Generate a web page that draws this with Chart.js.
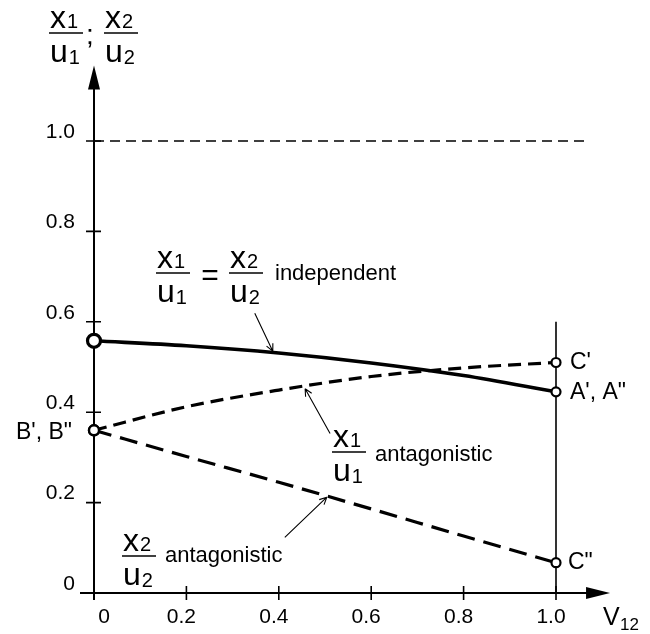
<!DOCTYPE html>
<html>
<head>
<meta charset="utf-8">
<script src="https://cdn.jsdelivr.net/npm/chart.js@4/dist/chart.umd.min.js"></script>
<style>
  html, body { margin: 0; padding: 0; background: #fff; }
  #wrap { width: 650px; height: 634px; }
</style>
</head>
<body>
<div id="wrap"><canvas id="chart" width="650" height="634"></canvas></div>
<script>
// coupling coefficient V12 and the relative outputs
const v12 = [0, 0.2, 0.4, 0.6, 0.8, 1.0]
const independent = [0.558, 0.547, 0.531, 0.509, 0.481, 0.445]
const antagonistic1 = [0.36, 0.412, 0.449, 0.479, 0.498, 0.51]
const antagonistic2 = [0.36, 0.302, 0.245, 0.186, 0.126, 0.067]

const xTicks = [0, 0.2, 0.4, 0.6, 0.8, 1.0]
const xTickLabels = ['0', '0.2', '0.4', '0.6', '0.8', '1.0']
const yTicks = [0, 0.2, 0.4, 0.6, 0.8, 1.0]
const yTickLabels = ['0', '0.2', '0.4', '0.6', '0.8', '1.0']

// dashed limit at 1.0 and the vertical at V12 = 1
const limitX = [0, 1.065]
const limitY = [1, 1]
const edgeX = [1, 1]
const edgeY = [0, 0.6]

const FONT = '"Liberation Sans", Arial, Helvetica, sans-serif'

const pts = (xs, ys) => xs.map((x, i) => ({ x, y: ys[i] }))
const ends = (first, last) => v12.map((_, i) => i === 0 ? first : (i === v12.length - 1 ? last : 0))

function term (ctx, letter, sub, left, base, drop) {
  ctx.font = '32px ' + FONT
  ctx.fillText(letter, left, base)
  const w = ctx.measureText(letter).width
  ctx.font = '20px ' + FONT
  ctx.fillText(sub, left + w + 1, base + drop)
}

function frac (ctx, left, barY, top, bottom, sub) {
  ctx.textAlign = 'left'
  ctx.textBaseline = 'alphabetic'
  term(ctx, top, sub, left, barY - 5, 0)
  term(ctx, bottom, sub, left, barY + 29, 2)
  ctx.lineWidth = 1.6
  ctx.beginPath()
  ctx.moveTo(left - 1, barY)
  ctx.lineTo(left + 33, barY)
  ctx.stroke()
}

function leader (ctx, x0, y0, x1, y1) {
  ctx.lineWidth = 1.1
  ctx.beginPath()
  ctx.moveTo(x0, y0)
  ctx.lineTo(x1, y1)
  const a = Math.atan2(y1 - y0, x1 - x0)
  for (const s of [-0.45, 0.45]) {
    ctx.moveTo(x1, y1)
    ctx.lineTo(x1 - 8 * Math.cos(a + s), y1 - 8 * Math.sin(a + s))
  }
  ctx.stroke()
}

const axes = {
  id: 'axes',
  beforeDatasetsDraw (chart) {
    const { ctx, scales: { x, y } } = chart
    const x0 = x.getPixelForValue(0)
    const y0 = y.getPixelForValue(0)
    const yTop = y.getPixelForValue(1.167)
    const xEnd = x.getPixelForValue(1.117)
    ctx.save()
    ctx.strokeStyle = '#000'
    ctx.fillStyle = '#000'
    ctx.lineWidth = 2
    ctx.beginPath()
    ctx.moveTo(x0, y0 + 7)
    ctx.lineTo(x0, yTop + 10)
    ctx.moveTo(x0 - 14, y0)
    ctx.lineTo(xEnd - 10, y0)
    ctx.stroke()
    // arrow heads
    ctx.beginPath()
    ctx.moveTo(x0, yTop)
    ctx.lineTo(x0 - 6, yTop + 24)
    ctx.lineTo(x0 + 6, yTop + 24)
    ctx.closePath()
    ctx.moveTo(xEnd, y0)
    ctx.lineTo(xEnd - 24, y0 - 6)
    ctx.lineTo(xEnd - 24, y0 + 6)
    ctx.closePath()
    ctx.fill()
    // tick marks crossing the axes
    ctx.lineWidth = 1.6
    ctx.beginPath()
    xTicks.slice(1).forEach(v => {
      const p = x.getPixelForValue(v)
      ctx.moveTo(p, y0 - 7)
      ctx.lineTo(p, y0 + 7)
    })
    yTicks.slice(1).forEach(v => {
      const p = y.getPixelForValue(v)
      ctx.moveTo(x0 - 8, p)
      ctx.lineTo(x0 + 7, p)
    })
    ctx.stroke()
    ctx.restore()
  },
  afterDraw (chart) {
    const { ctx, scales: { x, y } } = chart
    const x0 = x.getPixelForValue(0)
    const y0 = y.getPixelForValue(0)
    const X = v => x.getPixelForValue(v)
    const Y = v => y.getPixelForValue(v)
    ctx.save()
    ctx.fillStyle = '#000'
    ctx.strokeStyle = '#000'

    // tick labels
    ctx.font = '21px ' + FONT
    ctx.textBaseline = 'middle'
    ctx.textAlign = 'right'
    yTicks.forEach((v, i) => ctx.fillText(yTickLabels[i], x0 - 19, Y(v) - 9))
    ctx.textAlign = 'center'
    xTicks.forEach((v, i) => ctx.fillText(xTickLabels[i], X(v) + (v === 0 ? 10 : -5), y0 + 24))

    // axis titles
    ctx.textAlign = 'left'
    ctx.textBaseline = 'middle'
    ctx.font = '25px ' + FONT
    ctx.fillText('V', 603, y0 + 25)
    ctx.font = '17px ' + FONT
    ctx.fillText('12', 620, y0 + 32)
    frac(ctx, 50, 33, 'x', 'u', '1')
    ctx.font = '28px ' + FONT
    ctx.textBaseline = 'alphabetic'
    ctx.fillText(';', 86, 44)
    frac(ctx, 105, 33, 'x', 'u', '2')

    // curve labels
    frac(ctx, 157, 273, 'x', 'u', '1')
    ctx.font = '30px ' + FONT
    ctx.textAlign = 'center'
    ctx.textBaseline = 'middle'
    ctx.fillText('=', 210, 277)
    frac(ctx, 230, 273, 'x', 'u', '2')
    ctx.font = '22px ' + FONT
    ctx.textAlign = 'left'
    ctx.fillText('independent', 275, 280)

    frac(ctx, 333, 452, 'x', 'u', '1')
    ctx.font = '22px ' + FONT
    ctx.textBaseline = 'middle'
    ctx.fillText('antagonistic', 375, 455)

    frac(ctx, 123, 556, 'x', 'u', '2')
    ctx.font = '22px ' + FONT
    ctx.textBaseline = 'middle'
    ctx.fillText('antagonistic', 165, 556)

    leader(ctx, X(0.348), Y(0.619), X(0.387), Y(0.535))
    leader(ctx, X(0.511), Y(0.353), X(0.457), Y(0.452))
    leader(ctx, X(0.413), Y(0.123), X(0.504), Y(0.212))

    // point names
    ctx.font = '23px ' + FONT
    ctx.textBaseline = 'middle'
    ctx.textAlign = 'left'
    ctx.fillText("C'", X(1) + 14, Y(antagonistic1[5]))
    ctx.fillText("A', A\"", X(1) + 14, Y(independent[5]) + 1)
    ctx.fillText('C"', X(1) + 12, Y(antagonistic2[5]))
    ctx.textAlign = 'right'
    ctx.fillText("B', B\"", x0 - 22, Y(antagonistic1[0]) + 2)
    ctx.restore()
  }
}

new Chart(document.getElementById('chart').getContext('2d'), {
  type: 'line',
  data: {
    datasets: [
      {
        data: pts(v12, independent),
        borderColor: '#000',
        borderWidth: 3.6,
        cubicInterpolationMode: 'monotone',
        pointRadius: ends(6.5, 4.5),
        pointBorderWidth: ends(3.2, 2.2),
        pointBorderColor: '#000',
        pointBackgroundColor: '#fff',
        clip: false
      },
      {
        data: pts(v12, antagonistic1),
        borderColor: '#000',
        borderWidth: 3.2,
        borderDash: [13, 7],
        cubicInterpolationMode: 'monotone',
        pointRadius: ends(5, 4.5),
        pointBorderWidth: ends(2.4, 2.2),
        pointBorderColor: '#000',
        pointBackgroundColor: '#fff',
        clip: false
      },
      {
        data: pts(v12, antagonistic2),
        borderColor: '#000',
        borderWidth: 3.2,
        borderDash: [18, 9],
        cubicInterpolationMode: 'monotone',
        pointRadius: ends(5, 4.5),
        pointBorderWidth: ends(2.4, 2.2),
        pointBorderColor: '#000',
        pointBackgroundColor: '#fff',
        clip: false
      },
      {
        data: pts(edgeX, edgeY),
        borderColor: '#000',
        borderWidth: 1.6,
        pointRadius: 0,
        clip: false
      },
      {
        data: pts(limitX, limitY),
        borderColor: '#000',
        borderWidth: 1.3,
        borderDash: [10, 6],
        pointRadius: 0,
        clip: false
      }
    ]
  },
  options: {
    responsive: false,
    animation: false,
    layout: { padding: { left: 94, right: 94, top: 141, bottom: 41 } },
    scales: {
      x: { type: 'linear', min: 0, max: 1, display: false },
      y: { type: 'linear', min: 0, max: 1, display: false }
    },
    plugins: {
      legend: { display: false },
      tooltip: { enabled: false }
    }
  },
  plugins: [axes]
})
</script>
</body>
</html>
